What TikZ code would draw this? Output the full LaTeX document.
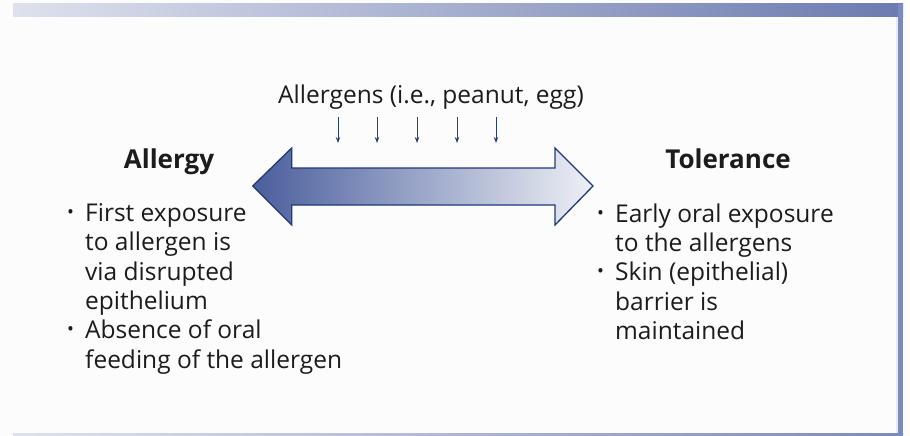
\documentclass[tikz,border=0pt]{standalone}
\usepackage{fontspec}
\setmainfont{Open Sans}
\usetikzlibrary{arrows.meta}
\definecolor{barL}{HTML}{DEE1ED}
\definecolor{barR}{HTML}{6B7BB0}
\definecolor{sideC}{HTML}{7C8AB9}
\definecolor{arrL}{HTML}{4A5E9C}
\definecolor{arrR}{HTML}{EEF0F6}
\definecolor{arrLine}{HTML}{1F3A78}
\definecolor{txt}{HTML}{1C1C1C}
\definecolor{small}{HTML}{2B3F70}
\newcommand\bl{\makebox[18pt][l]{\raisebox{0.25ex}{\scalebox{0.75}{•}}}}
\newcommand\ind{\hspace*{18pt}}
\tikzset{
  body/.style={font=\fontsize{24.5}{29.3}\selectfont, text=txt, inner sep=0pt, align=left, anchor=north west},
  head/.style={font=\fontsize{26}{30}\selectfont\bfseries, text=txt, inner sep=0pt, anchor=base},
  drop/.style={draw=small, line width=1pt, -{Stealth[length=6pt,width=4.5pt]}},
}
\begin{document}
\begin{tikzpicture}[x=1pt,y=-1pt]
\useasboundingbox (0,0) rectangle (910,436);
\fill[white!99!black] (0,0) rectangle (910,436);
% frame
\shade[left color=barL, right color=barR] (13,4) rectangle (903,17);
\fill[sideC] (898,4) rectangle (903,436);
\fill[barL!70!white] (896,17) rectangle (897.5,433);
\shade[left color=barL, right color=sideC] (13,433) rectangle (903,436);
% big double arrow
\shade[left color=arrL, right color=arrR, draw=arrLine, line width=1.3pt, line join=miter]
  (252.7,186) -- (291.7,148) -- (291.7,168) -- (555,168) -- (555,148) -- (593,186)
  -- (555,225) -- (555,205) -- (291.7,205) -- (291.7,225) -- cycle;
% top label
\node[font=\fontsize{24.5}{29}\selectfont, text=txt, inner sep=0pt, anchor=base] (alg) at (431,103.3) {Allergens (i.e., peanut, egg)};
\foreach \i/\x in {1/338,2/377,3/417,4/457,5/496}{
  \coordinate (s\i) at (\x,117);
  \coordinate (e\i) at (\x,143);
  \draw[drop] (s\i) -- (e\i);
}
% headings
\node[head] (allergy) at (169,168.3) {Allergy};
\node[head] (tol) at (728,168.3) {Tolerance};
% lists
\node[body] (ll) at (67,203.5) {\bl First exposure\\ \ind to allergen is\\ \ind via disrupted\\ \ind epithelium\\ \bl Absence of oral\\ \ind feeding of the allergen};
\node[body] (rl) at (597,203.5) {\bl Early oral exposure\\ \ind to the allergens\\ \bl Skin (epithelial)\\ \ind barrier is\\ \ind maintained};
\end{tikzpicture}
\end{document}
